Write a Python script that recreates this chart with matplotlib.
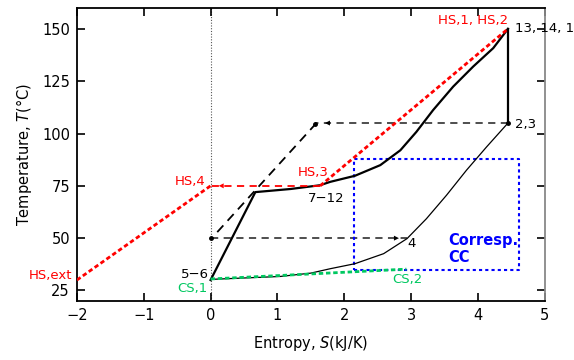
import matplotlib
matplotlib.use("Agg")
import matplotlib.pyplot as plt
import numpy as np

plt.rcParams['font.family'] = ['DejaVu Sans']
plt.rcParams['mathtext.fontset'] = 'dejavusans'

# hot side composite (7-12 ... 13,14,1)
s_hot = [0.0, 0.67, 1.2, 1.64, 1.79, 2.16, 2.54, 2.84, 3.08, 3.33, 3.63, 3.93, 4.23, 4.45]
t_hot = [30.0, 72.0, 73.5, 75.3, 76.9, 79.8, 84.9, 92.0, 100.8, 111.2, 122.4, 132.0, 140.8, 150.0]
s_drop = [4.45, 4.45]
t_drop = [150.0, 105.0]

# cold side composite (5-6 ... 4 ... 2,3)
s_cold = [0.0, 1.04, 1.5, 1.79, 2.16, 2.59, 2.94, 3.23, 3.53, 3.83, 4.13, 4.45]
t_cold = [30.3, 31.7, 33.3, 35.4, 37.8, 42.6, 49.8, 59.3, 70.5, 82.5, 93.6, 105.0]

# heat source line
s_hs_ext = [-2.0, 0.0]
t_hs_ext = [30.0, 75.0]
s_hs_top = [1.64, 4.45]
t_hs_top = [75.0, 150.0]
s_hs_back = [1.64, 0.0]
t_hs_back = [75.0, 75.0]

# cooling source line
s_cs = [0.0, 2.93]
t_cs = [30.5, 35.2]

# dashed paths
s_dash_up = [0.1, 1.57]
t_dash_up = [52.9, 104.5]
s_dash_top = [4.45, 1.57]
t_dash_top = [105.0, 105.0]
s_dash_mid = [0.0, 2.94]
t_dash_mid = [50.0, 50.0]

# corresponding CC box
box_s = [2.15, 4.61]
box_t = [35.0, 88.0]

red = '#ff0000'
green = '#00c860'
blue = '#0000ff'
dgray = '#404040'

fig = plt.figure(figsize=(5.74, 3.6), dpi=100)
ax = fig.add_axes([0.134, 0.164, 0.815, 0.814])

ax.axvline(0, color='#555555', lw=0.8, ls=(0, (1, 1.5)), zorder=1)

# dashed helper lines
ax.plot(s_dash_up, t_dash_up, color='black', lw=1.3, dashes=(5, 3.5), zorder=2)
ax.plot(s_dash_top, t_dash_top, color=dgray, lw=1.3, dashes=(4, 3), zorder=2)
ax.plot(s_dash_mid, t_dash_mid, color=dgray, lw=1.3, dashes=(4, 3), zorder=2)
ax.annotate('', xy=(s_dash_top[1] + 0.1, t_dash_top[1]), xytext=(s_dash_top[1] + 0.35, t_dash_top[1]),
            arrowprops=dict(arrowstyle='-|>', color='black', lw=0, mutation_scale=9))
ax.annotate('', xy=(s_dash_mid[1] - 0.08, t_dash_mid[1]), xytext=(s_dash_mid[1] - 0.35, t_dash_mid[1]),
            arrowprops=dict(arrowstyle='-|>', color='black', lw=0, mutation_scale=9))
ax.plot([s_dash_mid[0], s_dash_up[1], s_dash_top[0]], [t_dash_mid[0], t_dash_up[1], t_dash_top[0]],
        'o', color='black', ms=2.5, zorder=4)

# composite curves
ax.plot(s_hot, t_hot, color='black', lw=1.6, zorder=3)
ax.plot(s_drop, t_drop, color='black', lw=1.6, zorder=3)
ax.plot(s_cold, t_cold, color='black', lw=0.9, zorder=3)

# heat source / cooling source
ax.plot(s_hs_ext, t_hs_ext, color=red, lw=2, ls=(0, (1.6, 1)), zorder=4)
ax.plot(s_hs_top, t_hs_top, color=red, lw=2, ls=(0, (1.6, 1)), zorder=4)
ax.plot(s_hs_back, t_hs_back, color=red, lw=1.3, dashes=(4, 3), zorder=4)
ax.annotate('', xy=(s_hs_back[1] + 0.08, t_hs_back[1]), xytext=(s_hs_back[1] + 0.35, t_hs_back[1]),
            arrowprops=dict(arrowstyle='-|>', color=red, lw=0, mutation_scale=9))
ax.plot(s_cs, t_cs, color=green, lw=2, ls=(0, (1.6, 1)), zorder=4)

# box
ax.plot([box_s[0], box_s[1], box_s[1], box_s[0], box_s[0]],
        [box_t[0], box_t[0], box_t[1], box_t[1], box_t[0]],
        color=blue, lw=1.5, ls=(0, (1.5, 1.5)), zorder=2)

fs = 9.5
ax.text(4.45, 151, 'HS,1, HS,2', color=red, fontsize=fs, ha='right', va='bottom')
ax.text(4.55, 150, '13, 14, 1', color='black', fontsize=fs, ha='left', va='center', clip_on=False)
ax.text(4.55, 104.5, '2,3', color='black', fontsize=fs, ha='left', va='center', clip_on=False)
ax.text(1.76, 81.5, 'HS,3', color=red, fontsize=fs, ha='right', va='center')
ax.text(-0.08, 77.0, 'HS,4', color=red, fontsize=fs, ha='right', va='center')
ax.text(-2.07, 32.2, 'HS,ext', color=red, fontsize=fs, ha='right', va='center', clip_on=False)
ax.text(-0.03, 32.7, '5\u22126', color='black', fontsize=fs, ha='right', va='center')
ax.text(-0.05, 26.0, 'CS,1', color=green, fontsize=fs, ha='right', va='center')
ax.text(1.46, 69.0, '7\u221212', color='black', fontsize=fs, ha='left', va='center')
ax.text(2.94, 47.5, '4', color='black', fontsize=fs, ha='left', va='center')
ax.text(2.72, 30.3, 'CS,2', color=green, fontsize=fs, ha='left', va='center')
ax.text(3.55, 45.0, 'Corresp.\nCC', color=blue, fontsize=10.5, ha='left', va='center',
        fontweight='bold', linespacing=1.15)

ax.set_xlim(-2, 5)
ax.set_ylim(20, 160)
ax.set_xticks(range(-2, 6))
ax.set_yticks([25, 50, 75, 100, 125, 150])
ax.tick_params(direction='in', length=6, width=1.2, top=True, right=True, labelsize=10.5, pad=5)
for side in ['left', 'bottom', 'top']:
    ax.spines[side].set_linewidth(1.3)
ax.spines['right'].set_color('#888888')
ax.spines['right'].set_linewidth(1.3)

ax.set_xlabel('Entropy, $S$(kJ/K)', fontsize=10.5, labelpad=8)
ax.set_ylabel('Temperature, $T$(\u00b0C)', fontsize=10.5, labelpad=6)

fig.savefig('out.png', dpi=100)
